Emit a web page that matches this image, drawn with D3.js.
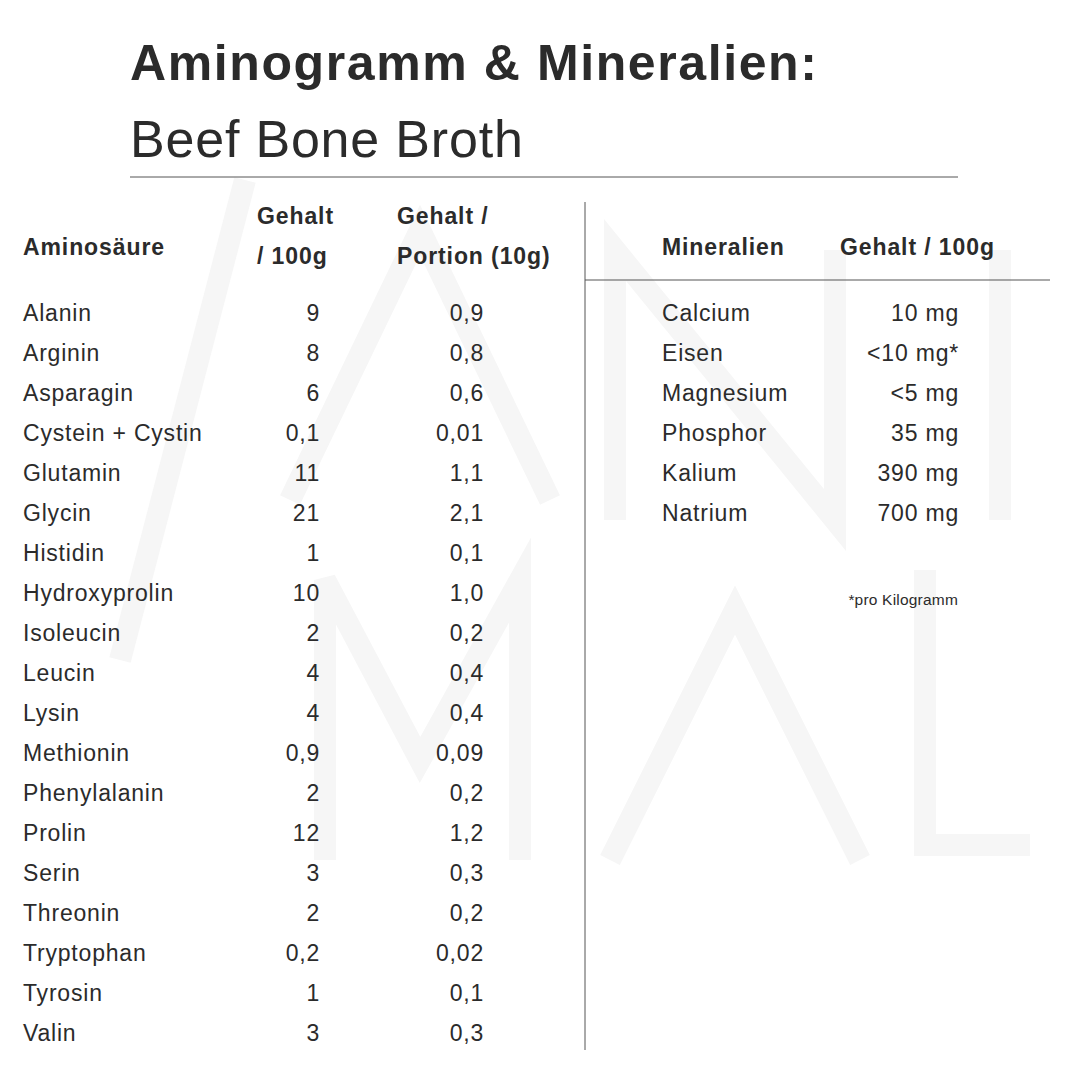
<!DOCTYPE html>
<html><head><meta charset="utf-8">
<script src="https://cdn.jsdelivr.net/npm/d3@7"></script>
<style>body{margin:0;background:#fff}</style>
</head><body>
<script>
const aminos = ["Alanin","Arginin","Asparagin","Cystein + Cystin","Glutamin","Glycin","Histidin","Hydroxyprolin","Isoleucin","Leucin","Lysin","Methionin","Phenylalanin","Prolin","Serin","Threonin","Tryptophan","Tyrosin","Valin"];
const per100 = ["9","8","6","0,1","11","21","1","10","2","4","4","0,9","2","12","3","2","0,2","1","3"];
const perPortion = ["0,9","0,8","0,6","0,01","1,1","2,1","0,1","1,0","0,2","0,4","0,4","0,09","0,2","1,2","0,3","0,2","0,02","0,1","0,3"];
const minerals = ["Calcium","Eisen","Magnesium","Phosphor","Kalium","Natrium"];
const mineralVals = ["10 mg","<10 mg*","<5 mg","35 mg","390 mg","700 mg"];

const W = 1080, H = 1080, font = "Liberation Sans, Arial, sans-serif", ink = "#2b2b2b";
const svg = d3.select("body").append("svg").attr("width", W).attr("height", H)
  .style("font-family", font);

// watermark
const wm = svg.append("g").attr("fill", "none").attr("stroke", "#f6f6f6").attr("stroke-width", 22);
const line = d3.line();
[
  [[120,660],[245,180]],
  [[290,500],[420,230],[550,500]],
  [[615,520],[615,250],[835,520],[835,250]],
  [[1000,250],[1000,520]],
  [[325,860],[325,580],[420,760],[520,580],[520,860]],
  [[610,860],[735,610],[860,860]],
  [[925,570],[925,845],[1030,845]]
].forEach(p => wm.append("path").attr("d", line(p)));

// titles
svg.append("text").attr("x", 130).attr("y", 80).attr("font-size", 50).attr("font-weight", "bold")
  .attr("fill", ink).style("letter-spacing", "1.6px").text("Aminogramm & Mineralien:");
svg.append("text").attr("x", 130).attr("y", 157).attr("font-size", 52)
  .attr("fill", ink).style("letter-spacing", "0.8px").text("Beef Bone Broth");
svg.append("line").attr("x1", 130).attr("x2", 958).attr("y1", 177).attr("y2", 177).attr("stroke", "#555");
svg.append("line").attr("x1", 585).attr("x2", 585).attr("y1", 202).attr("y2", 1050).attr("stroke", "#555");
svg.append("line").attr("x1", 585).attr("x2", 1050).attr("y1", 280).attr("y2", 280).attr("stroke", "#555");

const hdr = (x, y, t, anchor = "start") => svg.append("text").attr("x", x).attr("y", y)
  .attr("font-size", 23).attr("font-weight", "bold").attr("fill", ink).attr("text-anchor", anchor)
  .style("letter-spacing", "0.9px").text(t);
hdr(23, 255, "Aminosäure");
hdr(257, 224, "Gehalt"); hdr(257, 264, "/ 100g");
hdr(397, 224, "Gehalt /"); hdr(397, 264, "Portion (10g)");
hdr(662, 255, "Mineralien");
hdr(840, 255, "Gehalt / 100g");

const y = d3.scaleBand().domain(d3.range(aminos.length)).range([293, 1053]);
const cell = (x, i, t, anchor = "start") => svg.append("text").attr("x", x)
  .attr("y", y(i) + y.bandwidth() / 2).attr("dy", "0.35em").attr("font-size", 23)
  .attr("fill", ink).attr("text-anchor", anchor).style("letter-spacing", "0.8px").text(t);

aminos.forEach((a, i) => {
  cell(23, i, a);
  cell(320, i, per100[i], "end");
  cell(484, i, perPortion[i], "end");
});
minerals.forEach((m, i) => {
  cell(662, i, m);
  cell(959, i, mineralVals[i], "end");
});
svg.append("text").attr("x", 958).attr("y", 605).attr("font-size", 15.5).attr("fill", ink)
  .attr("text-anchor", "end").style("letter-spacing", "0.2px").text("*pro Kilogramm");
</script>
</body></html>
